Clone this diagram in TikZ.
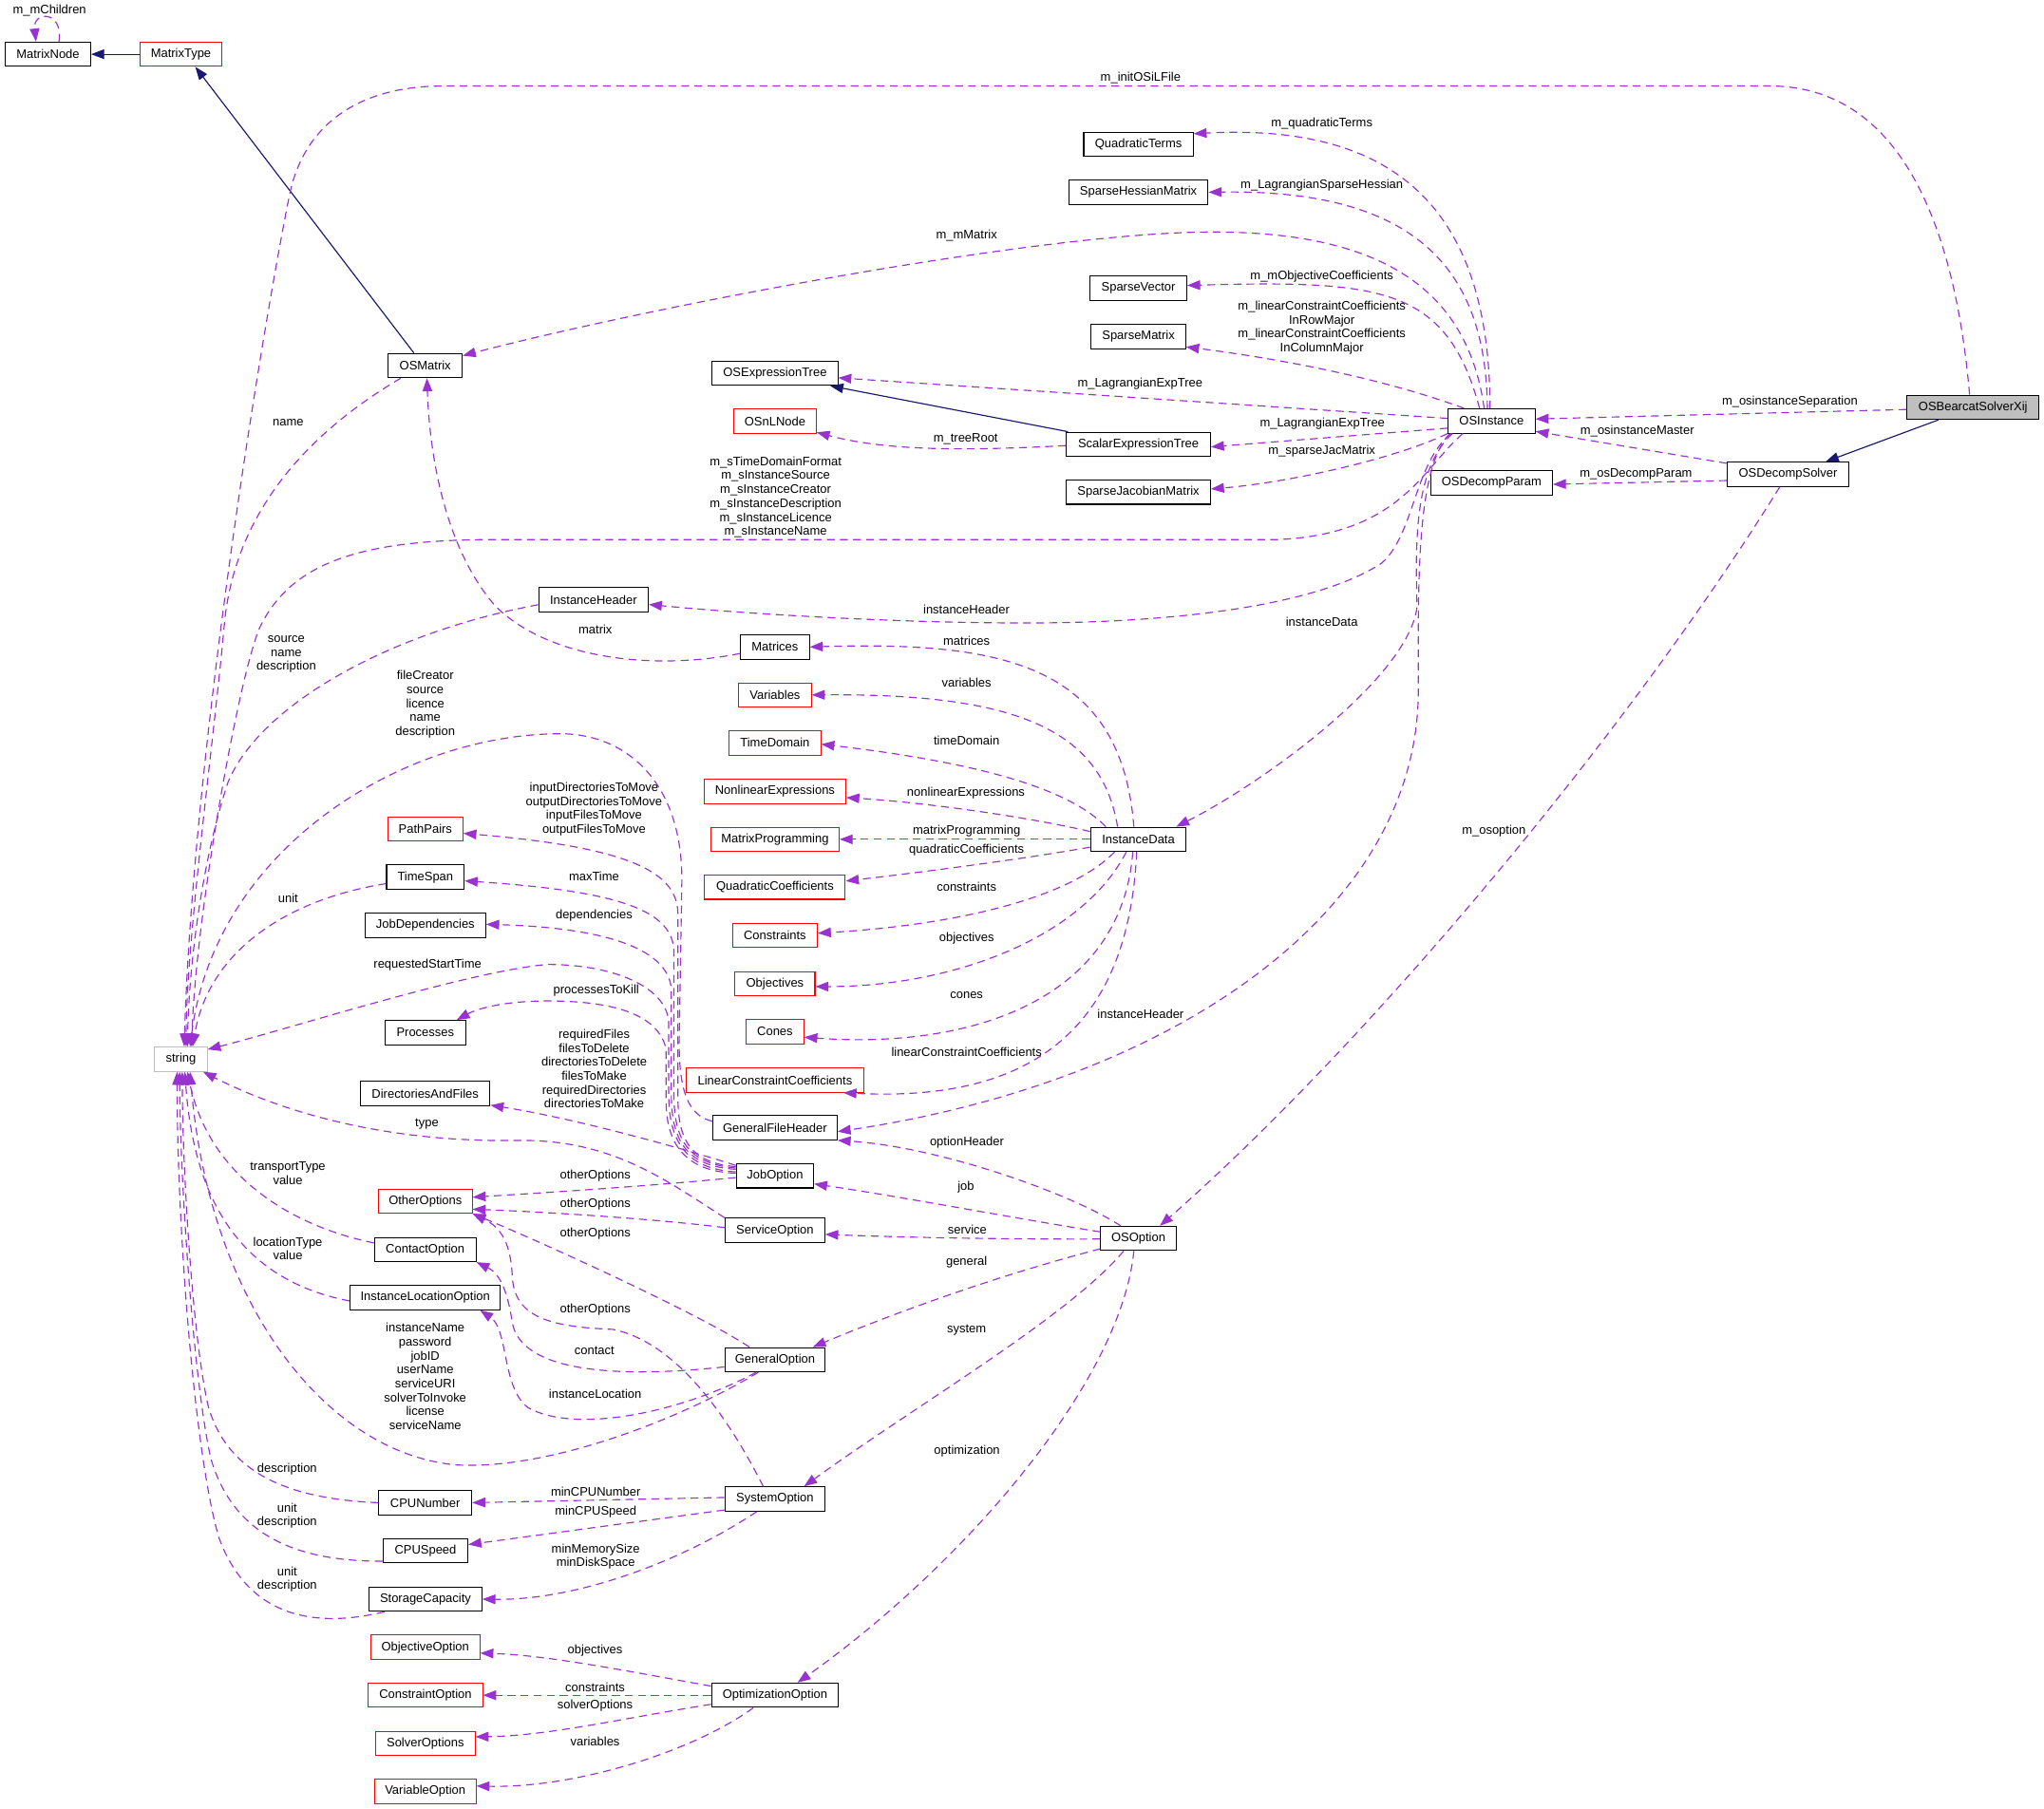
\documentclass[tikz,border=0pt]{standalone}
\usepackage{fontspec}
\setmainfont{Liberation Sans}
\usetikzlibrary{arrows.meta}
\definecolor{edgepurple}{HTML}{9A32CD}
\definecolor{inhblue}{HTML}{191970}
\definecolor{strgray}{HTML}{BFBFBF}
\definecolor{boxred}{HTML}{FF0000}
\newcommand{\dgfont}{\fontsize{9.45}{10.7}\selectfont}
\begin{document}
\begin{tikzpicture}[x=1pt,y=-1pt,
  cls/.style={draw=black, line width=0.75pt, rectangle, minimum height=18.6pt, inner sep=0pt, font=\dgfont, fill=white},
  redcls/.style={cls, draw=boxred},
  dep/.style={draw=edgepurple, line width=0.85pt, dash pattern=on 6pt off 4pt, -{Triangle[length=10pt,width=7.4pt]}},
  inh/.style={draw=inhblue, line width=0.85pt, -{Triangle[length=10pt,width=7.4pt]}},
  lab/.style={font=\dgfont, inner sep=0pt, align=center}
]
\useasboundingbox (0,0) rectangle (1568,1388);
\fill[white] (0,0) rectangle (1568,1388);

% ---------- class boxes ----------
\node[cls, minimum width=65.5pt] (MN) at (36.8,41.6) {MatrixNode};
\node[redcls, minimum width=63.2pt] (MT) at (138.8,41.6) {MatrixType};
\node[cls, minimum width=56.7pt] (OSM) at (326.2,280.5) {OSMatrix};
\node[cls, minimum width=83.9pt] (QT) at (873.3,110.6) {QuadraticTerms};
\node[cls, minimum width=106.9pt] (SHM) at (873.3,147.5) {SparseHessianMatrix};
\node[cls, minimum width=74pt] (SV) at (873.3,221) {SparseVector};
\node[cls, minimum width=72.3pt] (SM) at (873.3,258.2) {SparseMatrix};
\node[cls, minimum width=110.5pt] (SET) at (873.3,340.9) {ScalarExpressionTree};
\node[cls, minimum width=110.5pt] (SJM) at (873.3,377.6) {SparseJacobianMatrix};
\node[cls, minimum width=66.7pt] (OSI) at (1144.2,323) {OSInstance};
\node[cls, minimum width=93.3pt] (ODP) at (1144.2,370.4) {OSDecompParam};
\node[cls, fill=strgray, minimum width=101.6pt] (OSB) at (1513.5,312.5) {OSBearcatSolverXij};
\node[cls, minimum width=92.9pt] (ODS) at (1371.6,363.9) {OSDecompSolver};
\node[cls, minimum width=96.4pt] (OET) at (594.5,286.4) {OSExpressionTree};
\node[redcls, minimum width=63.2pt] (NLN) at (594.5,323.2) {OSnLNode};
\node[cls, minimum width=84.1pt] (IH) at (455.3,460.3) {InstanceHeader};
\node[cls, minimum width=52.7pt] (MAT) at (594.5,496.4) {Matrices};
\node[redcls, minimum width=55.7pt] (VAR) at (594.5,533.2) {Variables};
\node[redcls, minimum width=70.3pt] (TD) at (594.5,570) {TimeDomain};
\node[redcls, minimum width=108.6pt] (NLE) at (594.5,607.2) {NonlinearExpressions};
\node[redcls, minimum width=98.4pt] (MP) at (594.5,644) {MatrixProgramming};
\node[redcls, minimum width=107.9pt] (QC) at (594.5,680.7) {QuadraticCoefficients};
\node[redcls, minimum width=65pt] (CON) at (594.5,717.8) {Constraints};
\node[redcls, minimum width=61.3pt] (OBJ) at (594.5,754.7) {Objectives};
\node[redcls, minimum width=44.2pt] (CONES) at (594.5,791.6) {Cones};
\node[redcls, minimum width=136.1pt] (LCC) at (594.5,828.8) {LinearConstraintCoefficients};
\node[cls, minimum width=95.4pt] (GFH) at (594.5,865.3) {GeneralFileHeader};
\node[cls, minimum width=59.3pt] (JO) at (594.5,902.2) {JobOption};
\node[cls, minimum width=73.4pt] (ID) at (873.3,644) {InstanceData};
\node[cls, minimum width=57.7pt] (OSO) at (873.3,950.2) {OSOption};
\node[cls, minimum width=76.3pt] (SO) at (594.5,944.1) {ServiceOption};
\node[cls, minimum width=76.8pt] (GO) at (594.5,1043.3) {GeneralOption};
\node[cls, minimum width=76.8pt] (SYO) at (594.5,1150.2) {SystemOption};
\node[cls, minimum width=97.4pt] (OO) at (594.5,1300.7) {OptimizationOption};
\node[cls, draw=strgray, minimum width=40.2pt] (STR) at (138.8,812.7) {string};
\node[redcls, minimum width=57.5pt] (PP) at (326.3,636.1) {PathPairs};
\node[cls, minimum width=59.5pt] (TS) at (326.3,673) {TimeSpan};
\node[cls, minimum width=92.5pt] (JD) at (326.3,710) {JobDependencies};
\node[cls, minimum width=61.5pt] (PR) at (326.3,792.3) {Processes};
\node[cls, minimum width=99.4pt] (DAF) at (326.2,839) {DirectoriesAndFiles};
\node[redcls, minimum width=71.7pt] (OTH) at (326.3,921.6) {OtherOptions};
\node[cls, minimum width=77.8pt] (CO) at (326.2,958.7) {ContactOption};
\node[cls, minimum width=115.4pt] (ILO) at (326.2,995.6) {InstanceLocationOption};
\node[cls, minimum width=71.3pt] (CPUN) at (326.2,1153) {CPUNumber};
\node[cls, minimum width=65pt] (CPUS) at (326.4,1189.9) {CPUSpeed};
\node[cls, minimum width=86.5pt] (SC) at (326.4,1227) {StorageCapacity};
\node[redcls, minimum width=83.8pt] (OBO) at (326.2,1263.9) {ObjectiveOption};
\node[redcls, minimum width=87.5pt] (CNO) at (326.4,1300.7) {ConstraintOption};
\node[redcls, minimum width=76.1pt] (SVO) at (326.3,1337.6) {SolverOptions};
\node[redcls, minimum width=77.8pt] (VO) at (326.2,1374.4) {VariableOption};

% ---------- inheritance ----------
\draw[inh] (MT.west) -- (MN.east);
\draw[inh] ([xshift=-8.7pt]OSM.north) -- ([xshift=11pt]MT.south);
\draw[inh] ([xshift=1.6pt]SET.north west) -- ([xshift=42.4pt]OET.south);
\draw[inh] ([xshift=-26.5pt]OSB.south) -- ([xshift=28.9pt]ODS.north);

% ---------- usage relations ----------
\draw[dep] ([xshift=8.4pt]MN.north) .. controls (49,8) and (25,8) .. ([xshift=-9.2pt]MN.north);
\draw[dep] ([xshift=-2.6pt]OSB.north) .. controls (1502,200) and (1470,68) .. (1360,66) -- (340,66)
   .. controls (270,66) and (232,100) .. (222,150) .. controls (200,260) and (148,580) .. ([xshift=2.5pt]STR.north);
\draw[dep] ([yshift=-1.7pt]OSB.west) -- ([yshift=1.5pt]OSI.east);
\draw[dep] ([yshift=-1.3pt]ODS.north west) -- ([yshift=-8pt]OSI.east);
\draw[dep] ([yshift=-4.8pt]ODS.west) -- ([yshift=-1.2pt]ODP.east);
\draw[dep] ([xshift=-6.3pt]ODS.south) .. controls (1250,560) and (1050,800) .. ([xshift=16.5pt]OSO.north);

\draw[dep] ([xshift=-1.2pt]OSI.north) .. controls (1143,150) and (1060,95) .. ([yshift=8pt]QT.east);
\draw[dep] ([xshift=-3.2pt]OSI.north) .. controls (1140,210) and (1090,145) .. (SHM.east);
\draw[dep] ([xshift=-5.7pt]OSI.north) .. controls (1125,215) and (1050,178) .. (930,178)
   .. controls (800,178) and (500,235) .. ([yshift=7.6pt]OSM.east);
\draw[dep] ([xshift=-9.2pt]OSI.north) .. controls (1110,220) and (1060,215) .. ([yshift=2pt]SV.east);
\draw[dep] ([xshift=-21pt]OSI.north) .. controls (1060,290) and (980,275) .. ([yshift=-8pt]SM.east);
\draw[dep] ([yshift=2pt]OSI.west) -- ([yshift=-3.5pt]OET.east);
\draw[dep] ([yshift=-5.5pt]OSI.west) -- ([yshift=-2pt]SET.east);
\draw[dep] (OSI.south west) .. controls (1070,352) and (990,370) .. ([yshift=2.4pt]SJM.east);
\draw[dep] ([xshift=-22pt]OSI.south) .. controls (1092,358) and (1075,410) .. (980,414) -- (380,414)
   .. controls (280,414) and (225,430) .. (200,480) .. controls (185,510) and (150,700) .. ([xshift=8.2pt]STR.north);
\draw[dep] ([xshift=-31pt]OSI.south) .. controls (1085,355) and (1085,410) .. (1060,432)
   .. controls (1010,465) and (900,478) .. (787,478) .. controls (680,478) and (560,470) .. ([yshift=-3.5pt]IH.east);
\draw[dep] ([xshift=-30pt]OSI.south) .. controls (1084,360) and (1086,420) .. (1087,466)
   .. controls (1080,520) and (970,600) .. ([xshift=29pt]ID.north);
\draw[dep] ([xshift=-32pt]OSI.south) .. controls (1086,360) and (1088,450) .. (1088,530)
   .. controls (1088,700) and (900,830) .. ([yshift=-3pt]GFH.east);
\draw[dep] ([yshift=-1pt]SET.west) .. controls (740,346) and (680,346) .. ([yshift=-8.5pt]NLN.east);

% InstanceData
\draw[dep] ([xshift=-3.5pt]ID.north) .. controls (860,510) and (770,492) .. (MAT.east);
\draw[dep] ([xshift=-16pt]ID.north) .. controls (845,560) and (780,532) .. (VAR.east);
\draw[dep] ([xshift=-25pt]ID.north) .. controls (820,605) and (750,585) .. ([yshift=-1pt]TD.east);
\draw[dep] ([yshift=6pt]ID.west) .. controls (780,625) and (700,615) .. ([yshift=-4.8pt]NLE.east);
\draw[dep] (ID.west) -- (MP.east);
\draw[dep] ([yshift=-6pt]ID.west) .. controls (780,660) and (700,670) .. ([yshift=4.7pt]QC.east);
\draw[dep] ([xshift=-18.3pt]ID.south) .. controls (820,690) and (730,710) .. ([yshift=1.8pt]CON.east);
\draw[dep] ([xshift=-9.3pt]ID.south) .. controls (830,720) and (730,757) .. ([yshift=-2.3pt]OBJ.east);
\draw[dep] ([xshift=-4.3pt]ID.south) .. controls (860,770) and (740,805) .. ([yshift=-4.2pt]CONES.east);
\draw[dep] ([xshift=-1.3pt]ID.south) .. controls (865,800) and (780,845) .. ([xshift=52.5pt]LCC.south);

% OSOption
\draw[dep] ([xshift=-13.6pt]OSO.north) .. controls (820,915) and (720,880) .. (GFH.south east);
\draw[dep] ([yshift=5pt]OSO.west) .. controls (780,935) and (690,918) .. ([yshift=-6.2pt]JO.east);
\draw[dep] ([yshift=-0.5pt]OSO.west) .. controls (760,951) and (680,949) .. ([yshift=-3pt]SO.east);
\draw[dep] ([yshift=-8pt]OSO.west) .. controls (760,980) and (680,1010) .. ([xshift=29pt]GO.north);
\draw[dep] ([xshift=-11.3pt]OSO.south) .. controls (820,1010) and (700,1080) .. ([xshift=22.3pt]SYO.north);
\draw[dep] ([xshift=-3.5pt]OSO.south) .. controls (860,1060) and (740,1200) .. ([xshift=17.3pt]OO.north);

% JobOption
\draw[dep] ([yshift=7pt]JO.west) .. controls (527,892) and (520,872) .. (520,840) -- (520,700)
   .. controls (519,668) and (480,650) .. ([yshift=-3.3pt]PP.east);
\draw[dep] ([yshift=6pt]JO.west) .. controls (528,893) and (517,875) .. (517,840) -- (517,730)
   .. controls (516,700) and (480,684) .. ([yshift=-2.9pt]TS.east);
\draw[dep] ([yshift=5pt]JO.west) .. controls (529,895) and (515,878) .. (515,840) -- (515,760)
   .. controls (514,730) and (470,712) .. ([yshift=0.8pt]JD.east);
\draw[dep] ([yshift=3pt]JO.west) .. controls (530,897) and (513,880) .. (513,840) -- (513,785)
   .. controls (512,757) and (470,740) .. (420,740) .. controls (360,745) and (220,790) .. ([yshift=7.5pt]STR.east);
\draw[dep] ([yshift=2pt]JO.west) .. controls (530,899) and (511,882) .. (511,845) -- (511,805)
   .. controls (505,778) and (470,768) .. (420,768) .. controls (390,768) and (368,773) .. ([xshift=24pt]PR.north);
\draw[dep] ([yshift=8pt]JO.west) .. controls (520,880) and (440,858) .. ([yshift=-9pt]DAF.east);
\draw[dep] ([yshift=-1.3pt]JO.west) .. controls (500,910) and (420,915) .. ([yshift=3pt]OTH.east);

% GeneralFileHeader
\draw[dep] ([yshift=5pt]GFH.west) .. controls (527,856) and (521,835) .. (521,800) -- (523,680)
   .. controls (525,600) and (480,563) .. (430,563) .. controls (310,563) and (165,650) .. ([xshift=7pt]STR.north);

% ServiceOption
\draw[dep] (SO.north west) .. controls (510,905) and (470,875) .. (400,875)
   .. controls (300,877) and (220,855) .. ([xshift=17pt]STR.south);
\draw[dep] ([yshift=2.2pt]SO.west) .. controls (500,935) and (420,930) .. ([yshift=-6.2pt]OTH.east);

% GeneralOption
\draw[dep] ([xshift=-19.6pt]GO.north) .. controls (540,1010) and (420,955) .. (OTH.south east);
\draw[dep] ([yshift=-5.5pt]GO.west) .. controls (470,1058) and (400,1052) .. (393,1015)
   .. controls (390,995) and (385,978) .. (CO.south east);
\draw[dep] ([xshift=-14.5pt]GO.south) .. controls (520,1085) and (440,1100) .. (405,1080)
   .. controls (385,1065) and (390,1020) .. ([xshift=-16pt]ILO.south east);
\draw[dep] ([xshift=-12.8pt]GO.south) .. controls (520,1090) and (420,1128) .. (350,1124)
   .. controls (250,1115) and (160,1000) .. ([xshift=7pt]STR.south);

% SystemOption
\draw[dep] ([xshift=-9pt]SYO.north) .. controls (560,1090) and (520,1030) .. (470,1020)
   .. controls (420,1018) and (395,1010) .. (393,980) .. controls (392,955) and (385,942) .. (OTH.south east);
\draw[dep] ([yshift=1.2pt]SYO.west) -- (CPUN.east);
\draw[dep] ([yshift=-8.4pt]SYO.west) -- ([yshift=4.8pt]CPUS.east);
\draw[dep] ([xshift=-14pt]SYO.south) .. controls (520,1200) and (440,1228) .. (SC.east);

% OptimizationOption
\draw[dep] ([yshift=7pt]OO.west) .. controls (480,1282) and (420,1270) .. ([yshift=-4.5pt]OBO.east);
\draw[dep] (OO.west) -- (CNO.east);
\draw[dep] ([yshift=-7pt]OO.west) .. controls (480,1318) and (420,1332) .. ([yshift=5pt]SVO.east);
\draw[dep] ([xshift=-16.6pt]OO.south) .. controls (530,1345) and (440,1372) .. ([yshift=4pt]VO.east);

% to string (left column)
\draw[dep] ([yshift=5pt]CO.west) .. controls (220,940) and (160,900) .. ([xshift=5pt]STR.south);
\draw[dep] ([yshift=-2.6pt]ILO.west) .. controls (200,985) and (150,940) .. ([xshift=3pt]STR.south);
\draw[dep] (CPUN.west) .. controls (220,1150) and (175,1130) .. (160,1080)
   .. controls (148,1030) and (140,900) .. ([xshift=1pt]STR.south);
\draw[dep] ([yshift=-8pt]CPUS.west) .. controls (230,1198) and (180,1180) .. (162,1120)
   .. controls (148,1060) and (138,900) .. ([xshift=-1pt]STR.south);
\draw[dep] ([xshift=-31.5pt]SC.south) .. controls (240,1250) and (190,1240) .. (168,1180)
   .. controls (150,1120) and (136,950) .. ([xshift=-3pt]STR.south);
\draw[dep] ([yshift=-5pt]TS.west) .. controls (220,690) and (160,730) .. ([xshift=9pt]STR.north);
\draw[dep] ([yshift=-3.7pt]IH.west) .. controls (300,485) and (200,540) .. (175,600)
   .. controls (155,660) and (145,740) .. ([xshift=5pt]STR.north);
\draw[dep] ([xshift=-18.8pt]OSM.south) .. controls (240,330) and (180,390) .. (172,480)
   .. controls (165,560) and (143,720) .. ([xshift=4pt]STR.north);
\draw[dep] ([yshift=-5pt]MAT.west) .. controls (500,515) and (420,505) .. (380,465)
   .. controls (345,425) and (330,360) .. ([xshift=1.3pt]OSM.south);

% ---------- edge labels ----------
\node[lab] (l01) at (38,8.3) {m\_mChildren};
\node[lab] (l02) at (875,60) {m\_initOSiLFile};
\node[lab] (l03) at (1014,95) {m\_quadraticTerms};
\node[lab] (l04) at (1014,142.5) {m\_LagrangianSparseHessian};
\node[lab] (l05) at (741.5,181) {m\_mMatrix};
\node[lab] (l06) at (1014,212) {m\_mObjectiveCoefficients};
\node[lab] (l07) at (1014,251.5) {m\_linearConstraintCoefficients\\InRowMajor\\m\_linearConstraintCoefficients\\InColumnMajor};
\node[lab] (l08) at (874.6,294.3) {m\_LagrangianExpTree};
\node[lab] (l09) at (1373,308.5) {m\_osinstanceSeparation};
\node[lab] (l10) at (1014.4,325.3) {m\_LagrangianExpTree};
\node[lab] (l11) at (1256,331) {m\_osinstanceMaster};
\node[lab] (l12) at (740.8,336.8) {m\_treeRoot};
\node[lab] (l13) at (1014,346.3) {m\_sparseJacMatrix};
\node[lab] (l14) at (1255,364) {m\_osDecompParam};
\node[lab] (l15) at (595,381.5) {m\_sTimeDomainFormat\\m\_sInstanceSource\\m\_sInstanceCreator\\m\_sInstanceDescription\\m\_sInstanceLicence\\m\_sInstanceName};
\node[lab] (l16) at (221,324) {name};
\node[lab] (l17) at (741.4,468) {instanceHeader};
\node[lab] (l18) at (1014,477) {instanceData};
\node[lab] (l19) at (456.7,483.3) {matrix};
\node[lab] (l20) at (741.5,492) {matrices};
\node[lab] (l21) at (219.6,502) {source\\name\\description};
\node[lab] (l22) at (741.5,524) {variables};
\node[lab] (l23) at (326.2,540.5) {fileCreator\\source\\licence\\name\\description};
\node[lab] (l24) at (741.5,568) {timeDomain};
\node[lab] (l25) at (741,608.4) {nonlinearExpressions};
\node[lab] (l26) at (455.7,621) {inputDirectoriesToMove\\outputDirectoriesToMove\\inputFilesToMove\\outputFilesToMove};
\node[lab] (l27) at (1146,638) {m\_osoption};
\node[lab] (l28) at (741.5,638) {matrixProgramming};
\node[lab] (l29) at (741.5,652) {quadraticCoefficients};
\node[lab] (l30) at (455.7,672.7) {maxTime};
\node[lab] (l31) at (741.5,680.5) {constraints};
\node[lab] (l32) at (221,689) {unit};
\node[lab] (l33) at (455.7,702.7) {dependencies};
\node[lab] (l34) at (741.5,720) {objectives};
\node[lab] (l35) at (328,740.3) {requestedStartTime};
\node[lab] (l36) at (457.4,760) {processesToKill};
\node[lab] (l37) at (741.5,764) {cones};
\node[lab] (l38) at (875,778) {instanceHeader};
\node[lab] (l39) at (741.5,807.5) {linearConstraintCoefficients};
\node[lab] (l40) at (455.8,820) {requiredFiles\\filesToDelete\\directoriesToDelete\\filesToMake\\requiredDirectories\\directoriesToMake};
\node[lab] (l41) at (327.5,862.2) {type};
\node[lab] (l42) at (741.7,876.6) {optionHeader};
\node[lab] (l43) at (220.8,900.2) {transportType\\value};
\node[lab] (l44) at (456.7,902.3) {otherOptions};
\node[lab] (l45) at (741,911) {job};
\node[lab] (l46) at (456.7,924.2) {otherOptions};
\node[lab] (l47) at (742,943.1) {service};
\node[lab] (l48) at (456.7,946.8) {otherOptions};
\node[lab] (l49) at (220.8,958) {locationType\\value};
\node[lab] (l50) at (741.5,968.2) {general};
\node[lab] (l51) at (456.7,1005) {otherOptions};
\node[lab] (l52) at (741.5,1020.4) {system};
\node[lab] (l53) at (456,1036.5) {contact};
\node[lab] (l54) at (326.2,1056.2) {instanceName\\password\\jobID\\userName\\serviceURI\\solverToInvoke\\license\\serviceName};
\node[lab] (l55) at (456.6,1069.2) {instanceLocation};
\node[lab] (l56) at (741.8,1113.1) {optimization};
\node[lab] (l57) at (220.3,1127) {description};
\node[lab] (l58) at (457,1144.4) {minCPUNumber};
\node[lab] (l59) at (457,1160.3) {minCPUSpeed};
\node[lab] (l60) at (220.3,1163) {unit\\description};
\node[lab] (l61) at (457,1194.3) {minMemorySize\\minDiskSpace};
\node[lab] (l62) at (220.3,1211.8) {unit\\description};
\node[lab] (l63) at (456.5,1266.8) {objectives};
\node[lab] (l64) at (456.5,1294.6) {constraints};
\node[lab] (l65) at (456.5,1309) {solverOptions};
\node[lab] (l66) at (456.5,1336.5) {variables};
\end{tikzpicture}
\end{document}
